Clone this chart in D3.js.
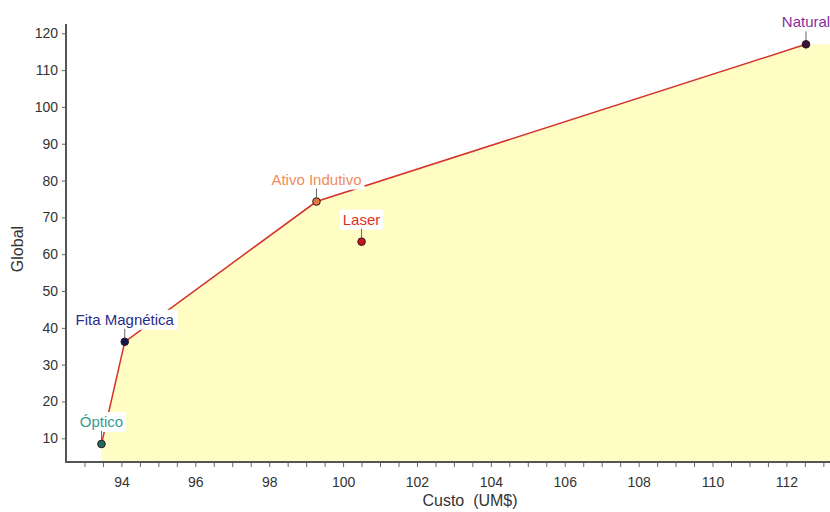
<!DOCTYPE html>
<html>
<head>
<meta charset="utf-8">
<script src="https://cdn.jsdelivr.net/npm/d3@7"></script>
<style>
  html, body { margin: 0; padding: 0; background: #fff; }
  svg { display: block; font-family: "Liberation Sans", Arial, sans-serif; }
</style>
</head>
<body>
<svg id="chart" width="830" height="512"></svg>
<script>
// ---- data ----
const names = ["Óptico", "Fita Magnética", "Ativo Indutivo", "Laser", "Natural"];
const custo = [93.46, 94.09, 99.28, 100.50, 112.53];
const globalScore = [8.45, 36.2, 74.3, 63.4, 117.0];
const frontier = ["Óptico", "Fita Magnética", "Ativo Indutivo", "Natural"];
const xTicks = [94, 96, 98, 100, 102, 104, 106, 108, 110, 112];
const yTicks = [10, 20, 30, 40, 50, 60, 70, 80, 90, 100, 110, 120];
const xTitle = "Custo  (UM$)";
const yTitle = "Global";

// ---- styles ----
const labelColors = ["#3a9a92", "#2b2b8a", "#f08c5a", "#e0301e", "#8b2c9c"];
const pointFill = ["#1f6b5c", "#15154e", "#e07a40", "#c8141a", "#3b103f"];

const svg = d3.select("#chart");
const x = d3.scaleLinear().domain([92.5, 113.18]).range([66, 830]);
const y = d3.scaleLinear().domain([3.56, 122.25]).range([462, 25]);

const pts = names.map((n, i) => ({ name: n, x: custo[i], y: globalScore[i], i }));
const front = frontier.map(n => pts.find(p => p.name === n));

// fill area under frontier
const last = front[front.length - 1];
const areaPts = front.concat([{ x: x.domain()[1], y: last.y }]);
svg.append("path")
  .datum(areaPts)
  .attr("fill", "#fffcc4")
  .attr("d", d3.area().x(d => x(d.x)).y0(y(y.domain()[0])).y1(d => y(d.y)));

// axes
const xMinor = d3.range(93, 113.01, 0.5);
const xAxis = svg.append("g").attr("transform", `translate(0,${y.range()[0]})`)
  .call(d3.axisBottom(x).tickValues(xMinor).tickSize(5).tickFormat(""));
xAxis.selectAll("line").attr("stroke", "#666");
xAxis.select(".domain").remove();
const xLab = svg.append("g").attr("transform", `translate(0,${y.range()[0]})`)
  .call(d3.axisBottom(x).tickValues(xTicks).tickSize(0).tickPadding(15).tickFormat(d3.format("d")));
xLab.select(".domain").remove();
xLab.selectAll("text").attr("font-size", 14).attr("fill", "#333").attr("font-family", "Liberation Sans, Arial, sans-serif");

const yAxis = svg.append("g").attr("transform", `translate(${x.range()[0]},0)`)
  .call(d3.axisLeft(y).tickValues(yTicks).tickSize(4).tickPadding(4).tickFormat(d3.format("d")));
yAxis.select(".domain").remove();
yAxis.selectAll("line").attr("stroke", "#666");
yAxis.selectAll("text").attr("font-size", 14).attr("fill", "#333").attr("font-family", "Liberation Sans, Arial, sans-serif");

svg.append("line")
  .attr("x1", x.range()[0]).attr("x2", x.range()[0])
  .attr("y1", y.range()[1] - 1).attr("y2", y.range()[0])
  .attr("stroke", "#555").attr("stroke-width", 2);
svg.append("line")
  .attr("x1", x.range()[0] - 1).attr("x2", x.range()[1])
  .attr("y1", y.range()[0]).attr("y2", y.range()[0])
  .attr("stroke", "#555").attr("stroke-width", 2);

// titles
svg.append("text").attr("x", 470).attr("y", 506).attr("text-anchor", "middle")
  .attr("font-size", 16).attr("fill", "#333").style("white-space", "pre").text(xTitle);
svg.append("text").attr("transform", "translate(23,249) rotate(-90)").attr("text-anchor", "middle")
  .attr("font-size", 16).attr("fill", "#333").text(yTitle);

// frontier line
svg.append("path")
  .datum(front)
  .attr("fill", "none").attr("stroke", "#d4322a").attr("stroke-width", 1.5)
  .attr("d", d3.line().x(d => x(d.x)).y(d => y(d.y)));

// labels
const lg = svg.append("g");
pts.forEach(p => {
  const cx = x(p.x), cy = y(p.y) - 22;
  const g = lg.append("g");
  const t = g.append("text").attr("x", cx).attr("y", cy + 5).attr("text-anchor", "middle")
    .attr("font-size", 15).attr("fill", labelColors[p.i]).text(p.name);
  const bb = t.node().getBBox();
  g.insert("rect", "text").attr("x", bb.x - 3).attr("y", bb.y - 1)
    .attr("width", bb.width + 6).attr("height", bb.height + 3).attr("fill", "#fff");
  g.append("line").attr("x1", cx).attr("x2", cx).attr("y1", y(p.y) - 13).attr("y2", y(p.y) - 3)
    .attr("stroke", "#666").attr("stroke-width", 1);
});

// points
svg.append("g").selectAll("circle").data(pts).join("circle")
  .attr("cx", d => x(d.x)).attr("cy", d => y(d.y)).attr("r", 3.8)
  .attr("fill", d => pointFill[d.i]).attr("stroke", "#2a1a1a").attr("stroke-width", 1);
</script>
</body>
</html>
